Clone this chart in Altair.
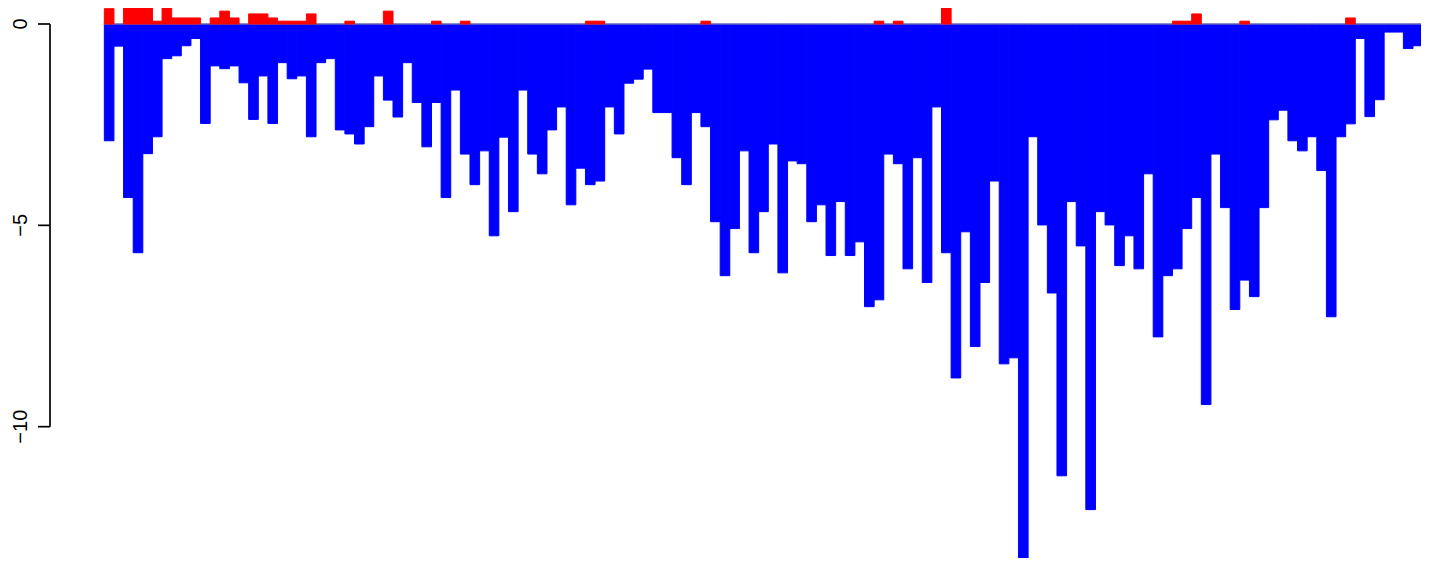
import altair as alt
import pandas as pd

# depth of each blue bar (plotted as negative values)
blue_depth = [
    2.90, 0.55, 4.31, 5.68, 3.22, 2.80, 0.86, 0.79, 0.54, 0.36,
    2.47, 1.04, 1.11, 1.04, 1.46, 2.37, 1.29, 2.47, 0.96, 1.36,
    1.29, 2.80, 0.96, 0.86, 2.63, 2.73, 2.98, 2.55, 1.29, 1.89,
    2.31, 0.96, 1.95, 3.05, 1.95, 4.31, 1.64, 3.23, 3.99, 3.15,
    5.26, 2.81, 4.66, 1.64, 3.23, 3.72, 2.63, 2.06, 4.49, 3.58,
    3.99, 3.90, 2.06, 2.73, 1.47, 1.37, 1.12, 2.20, 2.20, 3.32,
    3.99, 2.20, 2.55, 4.91, 6.25, 5.08, 3.15, 5.68, 4.66, 2.98,
    6.18, 3.40, 3.47, 4.91, 4.49, 5.75, 4.41, 5.75, 5.41, 7.02,
    6.85, 3.23, 3.47, 6.08, 3.32, 6.42, 2.06, 5.68, 8.79, 5.16,
    8.01, 6.42, 3.90, 8.44, 8.29, 13.6, 2.80, 4.99, 6.68, 11.22,
    4.41, 5.51, 12.06, 4.66, 4.99, 6.00, 5.26, 6.08, 3.72, 7.77,
    6.25, 6.08, 5.08, 4.31, 9.45, 3.23, 4.56, 7.09, 6.36, 6.77,
    4.56, 2.38, 2.14, 2.90, 3.15, 2.80, 3.64, 7.27, 2.80, 2.48,
    0.36, 2.30, 1.88, 0.20, 0.20, 0.61, 0.54,
]

# positive (red) values, index -> value
red_index = [0, 2, 3, 4, 5, 6, 7, 8, 9, 11, 12, 13, 15, 16, 17, 18, 19, 20, 21,
             25, 29, 34, 37, 50, 51, 62, 80, 82, 87, 111, 112, 113, 118, 129]
red_value = [0.38, 0.56, 0.56, 0.62, 0.07, 0.50, 0.15, 0.15, 0.15, 0.15, 0.32, 0.15,
             0.25, 0.25, 0.15, 0.07, 0.07, 0.07, 0.25,
             0.07, 0.32, 0.07, 0.07, 0.07, 0.07, 0.07, 0.07, 0.07, 0.50,
             0.07, 0.07, 0.25, 0.07, 0.15]

tick_values = [0, -5, -10]
tick_labels = ["0", "\u22125", "\u221210"]

n = len(blue_depth)
blue_df = pd.DataFrame({
    "x0": list(range(n)),
    "x1": [i + 1 for i in range(n)],
    "v": [-d for d in blue_depth],
    "z": [0.0] * n,
})
red_df = pd.DataFrame({
    "x0": red_index,
    "x1": [i + 1 for i in red_index],
    "v": red_value,
    "z": [0.0] * len(red_index),
})
tick_df = pd.DataFrame({"t": tick_values, "lab": tick_labels})
zero_df = pd.DataFrame({"x0": [-0.1], "x1": [145.0], "v": [0.0]})
axis_df = pd.DataFrame({"v": [0.0], "v2": [-10.0]})

W, H = 1371, 550
xscale = alt.Scale(domain=[-5.646, 136.83], nice=False, zero=False)
yscale = alt.Scale(domain=[-13.261, 0.3973], nice=False, zero=False)

blue = alt.Chart(blue_df).mark_rect(
    color="#0000ff", stroke="#0000ff", strokeWidth=1, clip=True
).encode(
    x=alt.X("x0:Q", scale=xscale, axis=None),
    x2="x1:Q",
    y=alt.Y("v:Q", scale=yscale, axis=None),
    y2="z:Q",
)

zero_line = alt.Chart(zero_df).mark_rule(
    color="#9a9a9a", strokeWidth=1, clip=True
).encode(
    x=alt.X("x0:Q", scale=xscale, axis=None),
    x2="x1:Q",
    y=alt.Y("v:Q", scale=yscale, axis=None),
)

red = alt.Chart(red_df).mark_rect(
    color="#ff0000", stroke="#ff0000", strokeWidth=1, clip=True
).encode(
    x=alt.X("x0:Q", scale=xscale, axis=None),
    x2="x1:Q",
    y=alt.Y("v:Q", scale=yscale, axis=None),
    y2="z:Q",
)

axis_line = alt.Chart(axis_df).mark_rule(
    color="black", strokeWidth=1.7
).encode(
    x=alt.value(0),
    y=alt.Y("v:Q", scale=yscale, axis=None),
    y2="v2:Q",
)

ticks = alt.Chart(tick_df).mark_rule(color="black", strokeWidth=1.7).encode(
    x=alt.value(-12),
    x2=alt.value(0),
    y=alt.Y("t:Q", scale=yscale, axis=None),
)

labels = alt.Chart(tick_df).mark_text(
    angle=270, align="center", baseline="alphabetic",
    font="Liberation Sans", fontSize=20, color="black",
).encode(
    x=alt.value(-23.5),
    y=alt.Y("t:Q", scale=yscale, axis=None),
    text="lab:N",
)

chart = alt.layer(blue, zero_line, red, axis_line, ticks, labels).properties(
    width=W, height=H,
    autosize=alt.AutoSizeParams(type="none"),
    padding={"left": 42, "top": 0, "right": 0, "bottom": 0},
).configure_view(stroke=None)

chart.save("out.html", embed_options={"renderer": "svg", "actions": False})
